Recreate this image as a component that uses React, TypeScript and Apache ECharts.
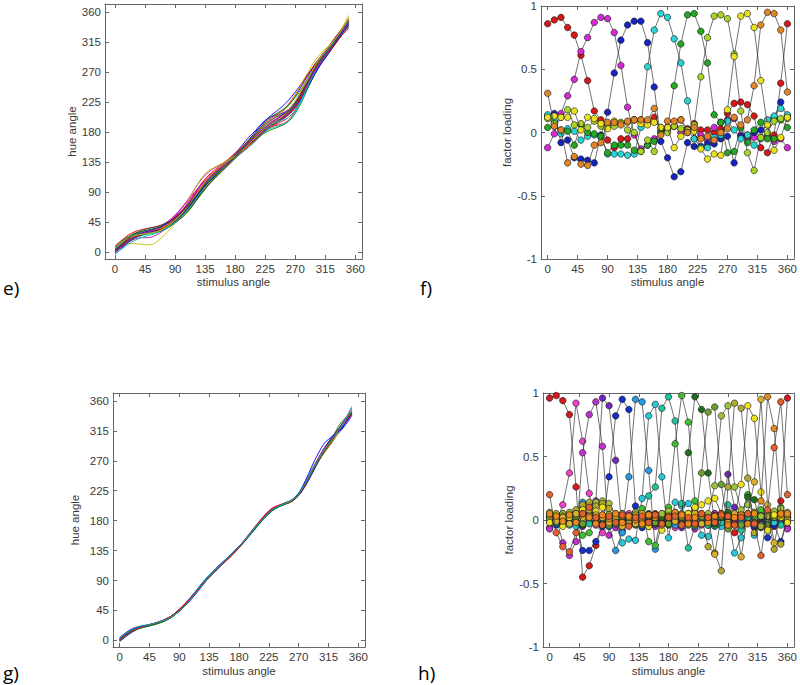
import React, { useEffect, useRef } from "react";
import * as echarts from "echarts";

// ---------------- data ----------------
const STIM_LINES = [0,10,20,30,40,50,60,70,80,90,100,110,120,130,140,150,160,170,180,190,200,210,220,230,240,250,260,270,280,290,300,310,320,330,340,350];
const STIM_FACTORS = [0,10,20,30,40,50,60,70,80,90,100,110,120,130,140,150,160,170,180,190,200,210,220,230,240,250,260,270,280,290,300,310,320,330,340,350,360];
const ANGLE_TICKS = [0,45,90,135,180,225,270,315,360];
const LOADING_TICKS = [-1,-0.5,0,0.5,1];

// panel e: hue angle per subject
const E_LINES: number[][] = [
  [2,10,20,27,31,33,35,38,43,50,60,72,86,99,110,119,128,138,148,160,172,182,193,201,205,208,214,226,243,262,280,294,306,320,334,346],
  [6,14,21,25,27,28,30,34,40,48,56,66,78,92,105,116,127,136,144,153,162,171,180,187,194,201,210,223,240,258,274,288,300,313,327,340],
  [3,11,18,23,26,29,32,36,40,46,55,66,80,95,108,118,127,135,143,152,162,172,182,188,190,192,198,212,232,254,273,289,302,318,333,348],
  [7,15,22,27,30,32,34,37,42,49,58,69,82,95,107,117,126,134,142,151,160,169,178,186,193,200,208,220,236,254,271,286,299,313,326,338],
  [0,8,15,20,22,22,25,31,39,49,62,76,90,104,114,122,130,137,145,154,163,172,181,190,198,206,214,225,240,257,274,290,305,318,331,342],
  [5,10,13,13,12,11,14,22,32,44,56,68,80,92,103,113,122,130,140,151,162,172,183,190,196,202,210,222,239,258,276,290,302,316,332,350],
  [4,13,21,26,29,31,34,38,43,49,57,67,79,92,104,114,124,134,144,154,165,174,182,188,194,200,207,218,234,252,270,286,300,316,332,347],
  [-3,6,15,22,26,29,33,38,45,53,62,72,84,96,108,118,128,137,146,156,166,176,186,194,202,210,220,234,250,266,280,292,302,314,326,336],
  [8,17,24,29,31,32,33,36,40,46,54,64,76,89,101,112,122,132,142,152,163,173,183,191,197,203,210,221,236,253,270,285,298,312,328,345],
  [1,9,17,23,27,30,33,36,40,45,52,62,75,90,104,115,125,134,142,150,158,167,177,185,191,196,202,213,230,250,270,288,303,318,332,344],
  [4,12,18,22,25,27,29,33,39,47,57,69,83,97,109,119,128,137,146,156,166,175,184,191,196,200,206,216,232,251,270,286,300,316,332,342],
  [5,14,22,27,30,32,35,39,45,54,66,80,96,110,120,127,132,138,146,156,166,176,186,193,199,205,212,224,240,258,276,292,305,318,330,340],
  [6,14,21,26,29,31,33,37,42,49,57,67,79,91,103,113,123,133,143,153,163,173,182,190,197,204,213,226,244,262,279,293,305,320,336,355],
  [0,8,16,22,26,29,32,36,41,48,57,68,81,94,105,115,125,135,145,155,165,174,183,190,196,202,210,222,238,256,273,288,301,317,333,344],
  [3,11,19,25,28,30,32,35,40,47,56,67,80,93,105,115,125,135,145,156,168,180,192,202,210,218,228,240,254,268,282,296,308,322,334,344],
  [2,10,18,24,27,29,31,34,38,44,52,62,75,88,101,113,124,134,143,152,160,168,176,182,186,190,196,208,226,248,268,286,302,318,332,345],
  [10,18,26,31,34,36,38,41,46,53,62,74,88,103,115,124,132,140,149,158,168,178,189,198,205,212,222,236,252,268,283,296,308,322,335,350],
  [-2,5,12,18,22,25,28,33,40,49,60,72,85,97,108,117,126,135,144,153,162,170,178,184,188,191,197,210,228,250,270,288,302,315,328,338],
  [5,13,20,25,28,31,35,40,47,56,67,79,91,102,112,121,130,139,148,157,166,174,182,189,195,201,208,219,235,253,271,287,301,316,330,341],
  [3,12,20,26,30,32,34,37,42,50,62,78,96,112,122,128,133,139,146,155,165,175,185,194,202,210,220,235,254,272,288,300,309,318,328,338],
  [8,16,22,26,28,29,30,32,37,45,55,66,78,90,101,111,121,131,141,151,161,171,181,189,196,203,211,223,239,257,275,291,304,318,333,346],
  [2,11,19,25,29,32,35,39,45,52,61,71,83,95,106,116,125,134,143,152,161,170,179,187,193,199,206,217,232,250,268,284,298,313,328,340],
  [1,10,19,26,31,34,36,39,44,51,60,71,84,97,109,119,128,137,146,156,167,178,190,200,207,213,221,232,246,262,278,292,304,318,332,344],
  [4,12,19,24,27,29,31,35,41,50,61,73,86,98,109,118,126,134,142,151,160,169,178,186,193,199,206,218,236,256,274,289,300,312,325,336],
  [6,14,21,26,28,29,30,33,38,45,54,65,78,92,105,116,125,133,141,149,157,166,176,186,194,198,202,212,230,252,272,290,304,318,332,346],
  [0,9,18,24,28,31,34,38,44,52,62,74,87,100,111,120,128,136,144,153,163,173,183,191,198,204,212,224,240,257,273,288,301,316,331,345],
  [7,15,21,25,27,28,30,34,40,48,58,70,84,99,112,122,130,137,144,152,161,171,181,189,196,203,212,226,244,262,280,296,308,320,334,352],
  [3,12,21,28,33,36,38,41,46,52,60,70,82,94,105,115,124,133,143,154,165,176,187,196,202,206,212,224,240,258,276,291,303,316,330,342],
];

// panel g: hue angle per subject
const G_LINES: number[][] = [
  [-2,6,13,18,21,24,27,31,37,44,53,64,76,89,100,110,119,129,139,151,163,175,186,195,201,205,210,218,233,252,270,288,303,312,323,338],
  [3,11,17,20,22,24,27,30,36,45,56,68,80,92,102,112,121,131,141,153,166,178,189,197,202,206,211,221,238,256,272,286,298,316,332,343],
  [1,9,15,19,21,23,26,31,38,47,57,68,80,92,102,111,120,130,140,152,165,178,190,199,203,206,210,219,235,253,270,284,297,312,327,340],
  [0,8,14,18,20,23,26,30,36,44,54,66,79,91,101,111,120,129,139,150,162,174,186,195,202,207,212,222,238,255,271,286,299,313,329,344],
  [2,10,16,20,22,25,28,32,38,46,56,67,79,90,100,110,120,130,141,153,165,177,188,196,202,206,211,220,236,256,274,290,302,315,330,348],
  [1,9,16,20,22,24,27,31,37,45,55,67,79,91,101,111,121,131,141,152,164,176,187,196,202,206,211,220,238,258,275,290,302,315,329,341],
  [0,8,14,19,21,24,27,31,37,45,55,66,78,90,100,110,120,130,140,152,164,176,188,197,203,207,211,219,234,252,269,286,302,318,332,345],
  [4,12,18,21,23,25,28,32,38,46,56,68,80,92,103,113,122,131,141,152,164,176,187,196,202,206,210,218,232,250,270,290,304,312,326,340],
  [-1,7,14,18,21,24,27,31,36,44,54,66,78,91,102,112,121,131,141,152,163,175,186,195,201,205,210,220,237,255,272,288,302,322,334,342],
  [2,10,16,20,22,24,27,30,36,44,54,65,77,89,100,110,119,129,140,152,164,176,187,196,202,205,209,218,234,253,271,287,300,314,328,339],
  [1,9,15,19,21,24,27,31,37,45,56,68,81,93,103,112,121,130,140,151,162,174,186,195,201,205,210,221,239,257,273,287,299,313,329,345],
  [0,8,15,19,22,24,27,31,37,45,55,67,79,91,101,111,121,131,141,153,165,177,189,198,203,206,210,219,236,256,275,292,305,318,333,350],
  [1,9,15,19,22,24,27,31,37,45,55,66,78,90,101,111,120,130,140,152,164,176,187,196,202,206,211,220,236,254,271,286,298,313,328,346],
  [3,11,17,20,22,24,27,31,37,45,55,66,78,90,100,110,120,130,140,151,163,175,186,195,201,205,210,219,235,254,272,290,306,318,330,341],
  [2,10,16,20,22,25,28,32,38,46,56,67,79,91,101,111,121,131,141,152,164,176,187,196,202,206,211,221,240,262,282,298,306,314,326,342],
  [0,8,15,19,21,23,26,30,36,44,54,66,78,90,101,111,120,130,140,151,163,175,186,195,201,205,209,218,234,252,270,286,300,316,330,344],
  [1,9,15,19,22,25,28,32,38,46,56,67,79,90,100,110,119,128,139,151,164,177,189,198,203,206,210,219,235,254,272,288,301,315,329,340],
  [3,11,17,21,23,25,28,31,37,44,54,66,78,90,101,111,121,131,141,152,164,176,187,196,202,206,211,220,237,255,273,289,302,316,331,352],
];

// panel f: factor loadings (8 factors)
const F_RED = [.86,.89,.91,.83,.77,.61,.41,.17,.10,-.06,-.12,-.05,-.05,.10,.10,.09,.12,.02,.02,.05,.10,.03,.07,.02,.02,.00,.03,.15,.23,.24,.22,.13,-.12,-.16,-.02,.39,.86];
const F_MAGENTA = [-.12,-.01,.15,.29,.42,.64,.75,.87,.91,.90,.79,.53,.20,-.02,-.13,-.10,-.05,.00,.04,.05,.00,.02,-.05,-.02,-.06,.04,.08,.10,.11,-.02,-.05,-.04,-.04,-.03,-.07,-.05,-.12];
const F_BLUE = [.13,.15,-.08,-.06,-.20,-.21,-.22,-.24,-.02,.16,.47,.73,.85,.88,.88,.71,.36,-.07,-.20,-.35,-.31,-.08,-.11,-.11,-.09,-.09,-.05,-.03,-.24,-.03,-.02,.00,.02,.06,.12,.24,.13];
const F_CYAN = [.14,.09,-.01,.03,.01,-.06,-.03,-.02,-.04,-.17,-.17,-.17,-.18,-.17,.04,.52,.81,.94,.91,.74,.55,.25,-.05,-.12,-.12,-.04,-.02,.09,.02,-.05,-.02,-.10,-.05,.10,.13,.19,.14];
const F_GREEN = [.04,.05,.02,.01,-.10,.06,.00,-.01,-.03,-.16,-.10,-.10,-.10,-.14,-.15,-.10,-.07,.00,.03,.37,.70,.93,.94,.80,.55,.14,.08,-.16,-.15,.04,-.08,.02,.08,-.05,-.05,.10,.04];
const F_LIME = [.11,.07,.12,.18,.06,.07,.04,.09,.05,.06,.05,.08,.02,.00,-.15,-.06,-.15,.04,.00,.05,.03,.02,.06,.44,.75,.92,.93,.90,.62,.17,-.16,-.30,-.04,.00,.09,.11,.11];
const F_YELLOW = [.12,.13,.12,.12,.17,.02,.12,.11,.07,.03,.09,.07,.08,.10,.07,.06,.08,.04,.04,-.12,-.03,.00,.01,-.13,-.21,-.17,-.18,.18,.60,.92,.94,.83,.41,.06,-.14,-.04,.12];
const F_ORANGE = [.31,.05,.02,-.24,-.19,-.25,-.26,-.10,-.08,.08,.08,.06,.09,.10,.10,.10,.19,-.02,.09,.09,.10,.00,.04,-.05,-.03,-.06,.00,.03,.12,.06,.10,.37,.85,.95,.94,.81,.32];

// panel h: factor loadings (17 factors)
const H_RED = [.96,.98,.94,.83,.26,-.45,-.36,-.20,-.05,.02,-.04,.03,-.02,.04,.00,-.03,.05,-.01,.02,.06,-.02,.04,.09,.03,-.03,.05,.00,-.03,-.10,-.05,.04,-.06,-.02,.03,-.05,.15,.96];
const H_PINK = [-.06,-.03,.12,.37,.92,.62,.21,-.04,-.10,-.05,.02,-.03,.05,-.02,.03,-.04,.01,.04,-.02,-.06,.03,-.01,.05,-.04,.02,-.03,.04,-.06,.01,.05,-.02,.03,-.04,.02,-.03,.04,-.06];
const H_MAGENTA = [-.07,.02,-.18,-.28,-.17,.53,.83,.93,.58,-.12,-.06,.02,-.03,.05,-.02,.04,-.05,.02,.06,-.03,.01,.03,-.07,.02,-.04,.05,-.02,.03,-.01,-.06,.02,-.03,.04,-.05,.01,-.02,-.07];
const H_PURPLE = [.03,-.02,.04,-.03,.02,-.05,.05,.15,.96,.90,.47,-.08,-.04,.03,-.05,.02,-.03,.04,-.01,.05,-.06,.02,-.03,.04,-.02,.03,.05,.36,.10,-.04,.02,-.05,.03,-.02,.04,-.01,.03];
const H_BLUE = [.02,-.04,.01,.03,-.02,-.24,-.24,-.17,-.05,.34,.82,.95,.87,.11,-.06,.03,-.02,.04,-.03,.02,-.01,.05,-.02,.03,.02,-.04,.01,-.03,.04,-.02,.03,-.05,.02,-.14,-.04,-.17,.02];
const H_AZURE = [.04,-.03,.05,-.02,.03,.14,.13,-.01,.04,-.05,-.24,-.10,.34,.95,.93,.39,-.23,-.03,.02,-.04,.03,-.01,.04,-.02,.03,-.05,.02,-.03,.05,-.02,.01,-.04,.03,-.02,.05,-.03,.04];
const H_CYAN = [-.01,.03,-.04,.02,-.05,.03,-.02,.04,-.03,.02,-.03,-.18,-.15,-.16,.17,.82,.91,.34,-.14,.14,.11,.13,.06,-.12,-.13,.03,-.05,.03,-.26,-.14,.02,-.12,-.04,.03,-.02,.04,-.01];
const H_TEAL = [.05,-.02,.03,-.04,.01,.04,-.03,.02,-.04,.03,-.02,.04,-.03,.05,-.02,.19,.26,.88,.97,.78,.13,-.22,-.05,.02,-.04,.03,-.02,.12,.03,-.08,.02,-.03,.04,-.02,.03,-.04,.05];
const H_GREEN = [.02,.04,-.03,.02,.05,-.12,-.10,.03,-.02,.04,-.03,.02,-.04,.06,.09,-.17,-.20,.05,.10,.60,.98,.77,.15,-.03,.02,-.04,.03,-.02,.05,.04,.20,.03,.08,-.04,.02,.10,.02];
const H_DARKGREEN = [.03,.01,.04,-.02,.03,-.04,.02,.05,-.03,.01,.04,-.02,.03,-.04,.02,.05,-.03,.02,-.04,.01,.04,.53,.97,.87,.37,-.03,.02,.06,-.04,.03,.18,.16,-.06,.05,.03,.07,.03];
const H_OLIVEGREEN = [-.02,.03,-.04,.05,.02,-.03,.04,-.02,.03,-.04,.02,.05,-.03,.02,-.04,.03,-.02,.04,-.03,.02,.05,-.04,-.04,.37,.85,.89,.28,-.07,.03,-.04,.05,-.02,.03,-.04,.02,.05,-.02];
const H_YELLOWGREEN = [.06,.02,.05,.03,.04,.10,.12,.14,.15,.13,.04,.05,.03,.06,.02,.04,.03,.05,.07,.04,.02,.05,.09,.04,.05,.27,.82,.90,.26,.08,.12,.06,.03,.05,.07,.09,.06];
const H_OLIVE = [.01,.05,.03,.06,.08,.12,.14,.11,.13,.09,.05,.03,-.02,.04,.01,-.05,.03,-.04,.02,.05,-.03,.04,-.02,.03,-.21,-.26,-.40,.26,.92,.88,.33,-.10,-.05,.03,-.23,-.19,.01];
const H_YELLOW = [-.02,.00,-.05,.02,.05,.08,.03,.07,.10,.04,.01,-.03,.02,-.02,.04,-.05,.02,-.08,.03,.02,-.04,.05,.10,.12,.15,.17,.05,-.03,.02,.28,.90,.80,.22,-.08,.04,.02,-.02];
const H_GOLD = [.04,-.01,.02,-.03,.05,.02,.08,.04,.02,-.02,.03,-.05,.02,-.03,.05,-.02,.04,-.03,.02,-.01,.03,-.02,.05,-.03,.02,-.27,.03,-.02,.05,-.29,.05,.30,.95,.12,-.18,.04,.04];
const H_ORANGE = [.05,.03,-.01,.04,-.02,.05,.02,-.03,.04,.01,.05,-.02,.03,.00,-.03,.04,.02,-.04,.03,.06,.04,-.03,.02,.05,-.02,.03,.05,-.04,.02,.04,-.03,.05,.15,.97,.72,.05,.05];
const H_REDORANGE = [.20,-.10,-.21,-.25,-.10,.05,.10,.02,-.04,.03,-.02,.04,-.05,.02,.03,-.02,.04,-.03,.02,.03,-.04,.02,-.03,.05,.02,-.02,.04,.03,-.04,.02,.05,-.03,-.28,.08,.57,.93,.20];

const F_FACTORS = [F_RED, F_MAGENTA, F_BLUE, F_CYAN, F_GREEN, F_LIME, F_YELLOW, F_ORANGE];
const H_FACTORS = [H_RED, H_PINK, H_MAGENTA, H_PURPLE, H_BLUE, H_AZURE, H_CYAN, H_TEAL, H_GREEN, H_DARKGREEN, H_OLIVEGREEN, H_YELLOWGREEN, H_OLIVE, H_YELLOW, H_GOLD, H_ORANGE, H_REDORANGE];

// ---------------- styles ----------------
const LINE_COLORS = ["#0000ff", "#008000", "#ff0000", "#00bfbf", "#bf00bf", "#bfbf00", "#404040"];
const F_COLORS = ["#d81818", "#d22cd2", "#1424c0", "#28d4d4", "#24a824", "#a8d428", "#e8e020", "#e0862a"];
const H_COLORS = ["#d81818", "#f040c8", "#c030d0", "#7028c0", "#1430c8", "#2898e0", "#28c8d8", "#20c4a0", "#40c030", "#1e6e1e", "#6ea030", "#a0c040", "#b0a830", "#f0e020", "#d8b030", "#e88a20", "#e06030"];

const AXIS_COLOR = "#666666";
const TEXT_COLOR = "#3a3a3a";
const FONT = "Liberation Sans, Arial, sans-serif";

const GRIDS = [
  { left: 105, top: 4, width: 257, height: 255 },  // e
  { left: 541, top: 5, width: 254, height: 254 },  // f
  { left: 113, top: 393, width: 252, height: 254 }, // g
  { left: 543, top: 393, width: 254, height: 254 }, // h
];

function xAxes(grid: number, min: number, max: number, ticks: number[], nameGap: number) {
  const common = {
    gridIndex: grid, type: "value", min, max,
    splitLine: { show: false },
    axisLine: { show: true, onZero: false, lineStyle: { color: AXIS_COLOR, width: 1 } },
    axisTick: { show: true, inside: true, length: 4, customValues: ticks, lineStyle: { color: AXIS_COLOR } },
  };
  return [
    {
      ...common, position: "bottom",
      name: "stimulus angle", nameLocation: "middle", nameGap,
      nameTextStyle: { color: TEXT_COLOR, fontSize: 11.5, fontFamily: FONT },
      axisLabel: { show: true, customValues: ticks, margin: 4, color: TEXT_COLOR, fontSize: 11.5, fontFamily: FONT },
    },
    { ...common, position: "top", axisLabel: { show: false } },
  ];
}

function yAxes(grid: number, min: number, max: number, ticks: number[], name: string, nameGap: number) {
  const common = {
    gridIndex: grid, type: "value", min, max,
    splitLine: { show: false },
    axisLine: { show: true, onZero: false, lineStyle: { color: AXIS_COLOR, width: 1 } },
    axisTick: { show: true, inside: true, length: 4, customValues: ticks, lineStyle: { color: AXIS_COLOR } },
  };
  return [
    {
      ...common, position: "left",
      name, nameLocation: "middle", nameGap,
      nameTextStyle: { color: TEXT_COLOR, fontSize: 11.5, fontFamily: FONT },
      axisLabel: { show: true, customValues: ticks, margin: 4, color: TEXT_COLOR, fontSize: 11.5, fontFamily: FONT },
    },
    { ...common, position: "right", axisLabel: { show: false } },
  ];
}

function curveSeries(lines: number[][], axisIndex: number) {
  return lines.map((ys, i) => ({
    type: "line",
    xAxisIndex: axisIndex, yAxisIndex: axisIndex,
    data: ys.map((y, k) => [STIM_LINES[k], y]),
    showSymbol: false, symbol: "none", smooth: 0.35,
    lineStyle: { color: LINE_COLORS[i % LINE_COLORS.length], width: 0.9 },
    silent: true, z: 2,
  }));
}

function factorSeries(factors: number[][], colors: string[], axisIndex: number) {
  return factors.map((ys, i) => ({
    type: "line",
    xAxisIndex: axisIndex, yAxisIndex: axisIndex,
    data: ys.map((y, k) => [STIM_FACTORS[k], y]),
    symbol: "circle", symbolSize: 6.5, showSymbol: true,
    itemStyle: { color: colors[i], borderColor: "#111", borderWidth: 0.6 },
    lineStyle: { color: "#333", width: 0.7 },
    silent: true, z: 2 + i * 0.01,
  }));
}

export default function App() {
  const ref = useRef<HTMLDivElement>(null);
  useEffect(() => {
    if (!ref.current) return;
    const chart = echarts.init(ref.current, undefined, { renderer: "svg" });
    const panelLabel = (text: string, left: number, top: number) => ({
      type: "text", left, top,
      style: { text, fill: "#000", fontSize: 19, fontFamily: "Open Sans, Liberation Sans, sans-serif" },
    });
    chart.setOption({
      animation: false,
      backgroundColor: "#ffffff",
      grid: GRIDS.map((g) => ({ ...g, containLabel: false })),
      xAxis: [
        ...xAxes(0, -15, 370, ANGLE_TICKS, 17),
        ...xAxes(1, -10, 370, ANGLE_TICKS, 17),
        ...xAxes(2, -10, 370, ANGLE_TICKS, 18),
        ...xAxes(3, -10, 370, ANGLE_TICKS, 18),
      ],
      yAxis: [
        ...yAxes(0, -10, 372, ANGLE_TICKS, "hue angle", 25),
        ...yAxes(1, -1, 1, LOADING_TICKS, "factor loading", 26),
        ...yAxes(2, -10, 372, ANGLE_TICKS, "hue angle", 32),
        ...yAxes(3, -1, 1, LOADING_TICKS, "factor loading", 26),
      ],
      series: [
        ...curveSeries(E_LINES, 0),
        ...factorSeries(F_FACTORS, F_COLORS, 2),
        ...curveSeries(G_LINES, 4),
        ...factorSeries(H_FACTORS, H_COLORS, 6),
      ],
      graphic: [
        panelLabel("e)", 3, 278),
        panelLabel("f)", 420, 278),
        panelLabel("g)", 3, 663),
        panelLabel("h)", 418, 663),
      ],
    });
    return () => chart.dispose();
  }, []);
  return <div ref={ref} style={{ position: "fixed", left: 0, top: 0, width: 800, height: 685 }} />;
}
